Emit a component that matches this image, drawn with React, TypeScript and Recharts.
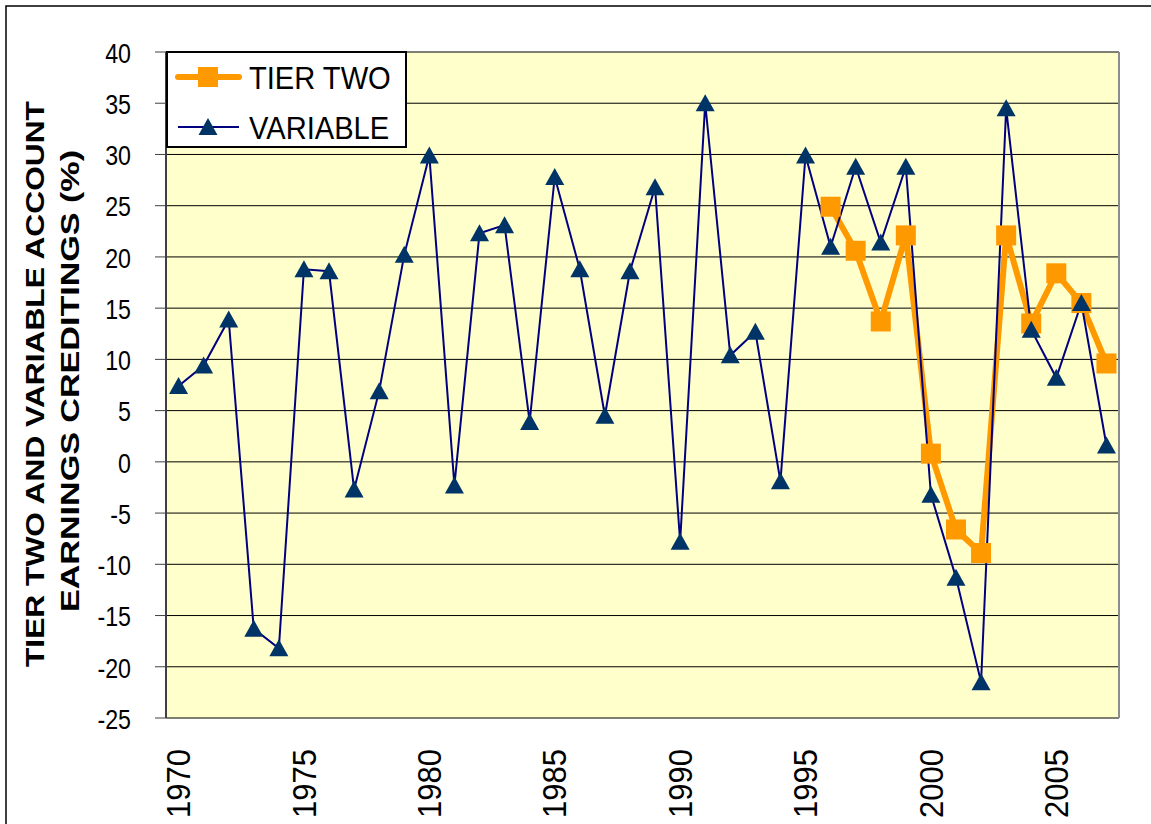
import React from 'react';
import { LineChart, Line, XAxis, YAxis, CartesianGrid, Legend } from 'recharts';

const years = [
  1970, 1971, 1972, 1973, 1974, 1975, 1976, 1977, 1978, 1979,
  1980, 1981, 1982, 1983, 1984, 1985, 1986, 1987, 1988, 1989,
  1990, 1991, 1992, 1993, 1994, 1995, 1996, 1997, 1998, 1999,
  2000, 2001, 2002, 2003, 2004, 2005, 2006, 2007,
];
const variableValues = [
  7.4, 9.4, 13.9, -16.3, -18.2, 18.8, 18.6, -2.7, 6.9, 20.2,
  29.9, -2.3, 22.3, 23.1, 3.9, 27.8, 18.8, 4.5, 18.6, 26.8,
  -7.8, 35.0, 10.4, 12.7, -1.9, 29.9, 21.0, 28.8, 21.4, 28.8,
  -3.2, -11.3, -21.5, 34.5, 12.9, 8.2, 15.5, 1.6,
];
const tierTwoYears = [1996, 1997, 1998, 1999, 2000, 2001, 2002, 2003, 2004, 2005, 2006, 2007];
const tierTwoValues = [24.9, 20.6, 13.7, 22.1, 0.8, -6.6, -8.9, 22.1, 13.5, 18.4, 15.5, 9.6];
const yTicks = [-25, -20, -15, -10, -5, 0, 5, 10, 15, 20, 25, 30, 35, 40];
const xLabelYears = [1970, 1975, 1980, 1985, 1990, 1995, 2000, 2005];
const seriesNames = { tierTwo: 'TIER TWO', variable: 'VARIABLE' };
const titleLines = ['TIER TWO AND VARIABLE ACCOUNT', 'EARNINGS CREDITINGS (%)'];

const data = years.map((year, i) => {
  const j = tierTwoYears.indexOf(year);
  return { year, variable: variableValues[i], tierTwo: j >= 0 ? tierTwoValues[j] : null };
});
const boundaryTicks = [...years.map((y) => y - 0.5), years[years.length - 1] + 0.5];
const xDomain = [years[0] - 0.5, years[years.length - 1] + 0.5];

const FONT = '"Liberation Sans", Arial, Helvetica, sans-serif';
const ORANGE = '#FF9900';
const NAVY_LINE = '#000080';
const NAVY_MARK = '#003366';

const YTick = (props: any) => {
  const { x, y, payload } = props;
  return (
    <text
      transform={`translate(${x},${y + 1}) scale(0.86,1)`}
      textAnchor="end"
      dy="0.36em"
      fontSize={27}
      fill="#000"
      fontFamily={FONT}
    >
      {payload.value}
    </text>
  );
};

const XLabel = (props: any) => {
  const { x, y, payload } = props;
  return (
    <text
      transform={`translate(${x},${y + 31}) rotate(-90) scale(1,1.05)`}
      textAnchor="end"
      dy="0.36em"
      fontSize={31}
      fill="#000"
      fontFamily={FONT}
    >
      {payload.value}
    </text>
  );
};

const SquareDot = (props: any) => {
  const { cx, cy, index } = props;
  if (cx == null || cy == null || props.value == null) return <g key={`s${index}`} />;
  return <rect key={`s${index}`} x={cx - 10} y={cy - 10} width={20} height={20} fill={ORANGE} />;
};

const TriangleDot = (props: any) => {
  const { cx, cy, index } = props;
  if (cx == null || cy == null) return <g key={`t${index}`} />;
  return (
    <polygon
      key={`t${index}`}
      points={`${cx},${cy - 9} ${cx + 9.5},${cy + 8} ${cx - 9.5},${cy + 8}`}
      fill={NAVY_MARK}
    />
  );
};

const renderLegend = (props: any) => {
  const items = (props.payload || []) as any[];
  return (
    <svg width={241} height={97} style={{ display: 'block' }}>
      <rect x={1} y={1} width={239} height={95} fill="#fff" stroke="#000" strokeWidth={2} />
      {items.map((it, i) => {
        const cy = 26 + i * 50;
        const isTier = it.dataKey === 'tierTwo';
        return (
          <g key={String(it.dataKey)}>
            <line
              x1={12}
              y1={cy}
              x2={73}
              y2={cy}
              stroke={isTier ? ORANGE : NAVY_LINE}
              strokeWidth={isTier ? 6 : 2}
              strokeLinecap={isTier ? 'round' : 'butt'}
            />
            {isTier ? (
              <rect x={32} y={cy - 10} width={20} height={20} fill={ORANGE} />
            ) : (
              <polygon points={`42,${cy - 9} 51.5,${cy + 8} 32.5,${cy + 8}`} fill={NAVY_MARK} />
            )}
            <text
              transform={`translate(83,${cy}) scale(0.91,1)`}
              dy="0.36em"
              fontSize={32}
              fill="#000"
              fontFamily={FONT}
            >
              {(seriesNames as any)[it.dataKey]}
            </text>
          </g>
        );
      })}
    </svg>
  );
};

export default function App() {
  return (
    <div style={{ position: 'absolute', left: 0, top: 0, width: 1151, height: 824, background: '#fff', overflow: 'hidden' }}>
      <LineChart
        width={1151}
        height={824}
        data={data}
        margin={{ top: 52, right: 0, bottom: 0, left: 0 }}
      >
        <CartesianGrid
          xAxisId="a"
          yAxisId="l"
          horizontal
          vertical={false}
          stroke="#000"
          strokeWidth={1}
          fill="#FFFFCC"
          fillOpacity={1}
        />
        <XAxis
          xAxisId="b"
          type="number"
          domain={xDomain}
          ticks={boundaryTicks}
          interval={0}
          height={0}
          tickSize={10}
          tickFormatter={() => ''}
          axisLine={{ stroke: '#000', strokeWidth: 2 }}
          tickLine={{ stroke: '#404040', strokeWidth: 1 }}
          allowDataOverflow
        />
        <XAxis
          xAxisId="a"
          type="number"
          dataKey="year"
          domain={xDomain}
          ticks={xLabelYears}
          interval={0}
          height={106}
          tickSize={0}
          tickMargin={0}
          axisLine={false}
          tickLine={false}
          tick={<XLabel />}
          allowDataOverflow
        />
        <YAxis
          yAxisId="l"
          type="number"
          domain={[-25, 40]}
          ticks={yTicks}
          interval={0}
          width={166}
          tickSize={11}
          tickMargin={24}
          axisLine={{ stroke: '#404040', strokeWidth: 2 }}
          tickLine={{ stroke: '#404040', strokeWidth: 1 }}
          tick={<YTick />}
          allowDataOverflow
        />
        <YAxis
          yAxisId="r"
          orientation="right"
          type="number"
          domain={[-25, 40]}
          width={32}
          tick={false}
          tickLine={false}
          axisLine={{ stroke: '#8c8c8c', strokeWidth: 2 }}
        />
        <Legend
          layout="horizontal"
          verticalAlign="middle"
          align="center"
          content={renderLegend}
          wrapperStyle={{ position: 'absolute', left: 166, top: 51, width: 241, height: 97 }}
        />
        <Line
          xAxisId="a"
          yAxisId="l"
          dataKey="tierTwo"
          name={seriesNames.tierTwo}
          stroke={ORANGE}
          strokeWidth={6}
          dot={SquareDot}
          activeDot={false}
          isAnimationActive={false}
        />
        <Line
          xAxisId="a"
          yAxisId="l"
          dataKey="variable"
          name={seriesNames.variable}
          stroke={NAVY_LINE}
          strokeWidth={2}
          dot={TriangleDot}
          activeDot={false}
          isAnimationActive={false}
        />
      </LineChart>
      <svg
        width={1151}
        height={824}
        style={{ position: 'absolute', left: 0, top: 0, pointerEvents: 'none' }}
      >
        <rect x={6} y={6} width={1200} height={900} fill="none" stroke="#000" strokeWidth={1.5} />
        <text
          transform="translate(35,384) rotate(-90)"
          textAnchor="middle"
          dy="0.36em"
          fontSize={26}
          fontWeight="bold"
          fill="#000"
          fontFamily={FONT}
          textLength={566}
          lengthAdjust="spacingAndGlyphs"
        >
          {titleLines[0]}
        </text>
        <text
          transform="translate(70,381) rotate(-90)"
          textAnchor="middle"
          dy="0.36em"
          fontSize={26}
          fontWeight="bold"
          fill="#000"
          fontFamily={FONT}
          textLength={462}
          lengthAdjust="spacingAndGlyphs"
        >
          {titleLines[1]}
        </text>
      </svg>
    </div>
  );
}
